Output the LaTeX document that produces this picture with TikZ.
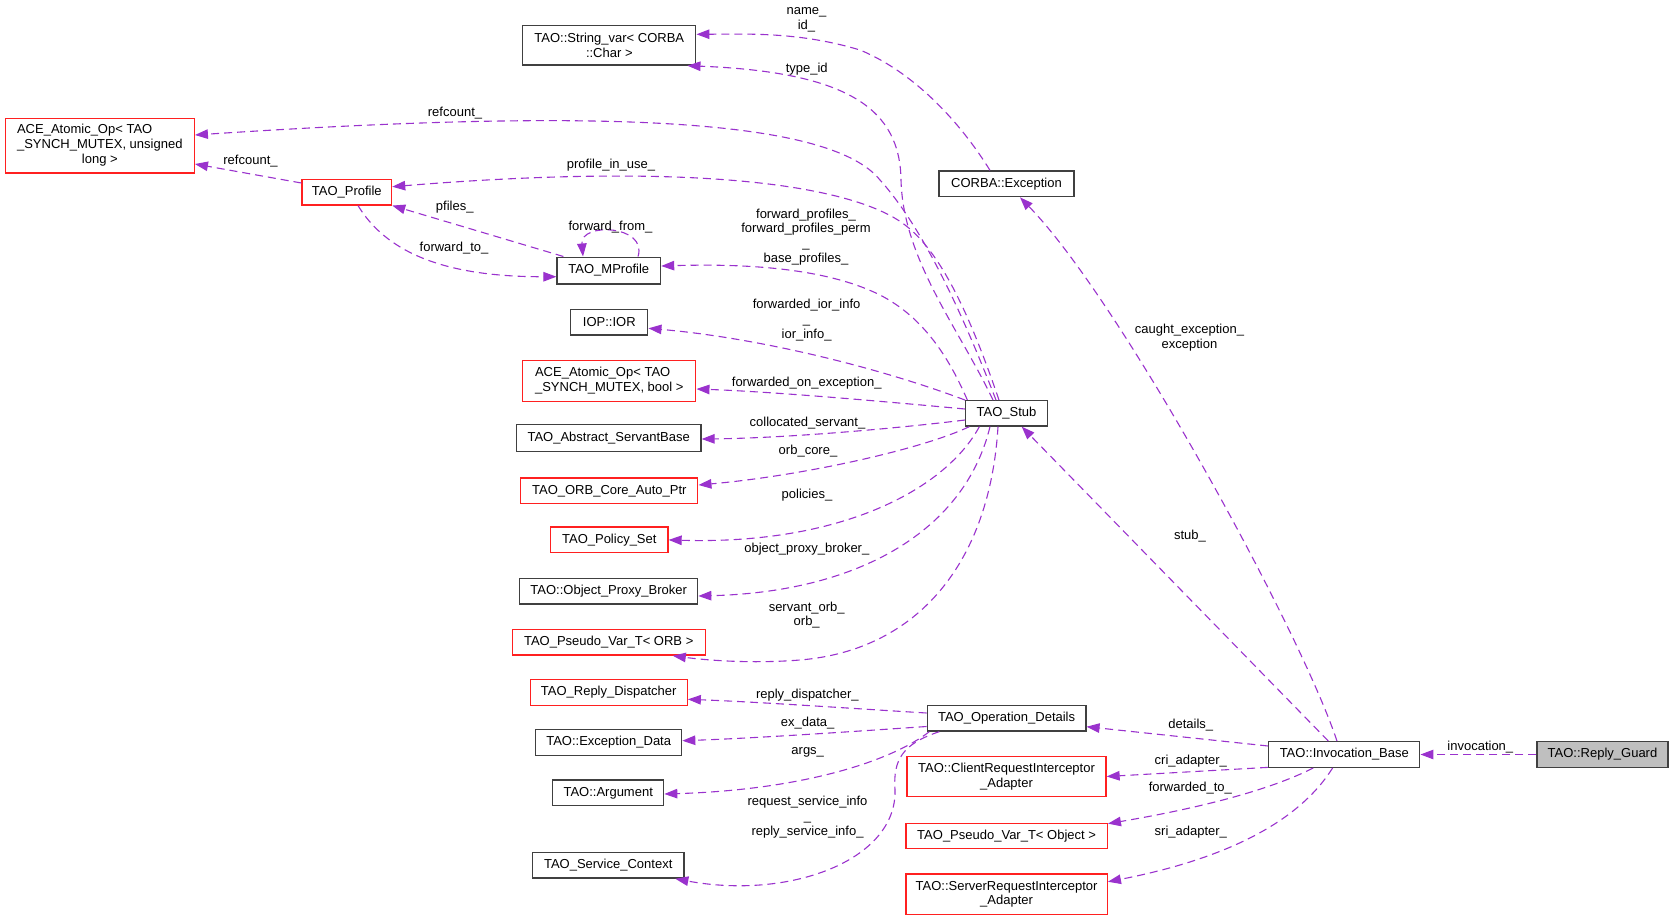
\documentclass[tikz,border=0pt]{standalone}
\usepackage{fontspec}
\setmainfont{Liberation Sans}
\usetikzlibrary{arrows.meta}
\definecolor{edgec}{HTML}{9A32CD}
\definecolor{boxk}{HTML}{404040}
\definecolor{boxr}{HTML}{FF2020}
\definecolor{fillg}{HTML}{BFBFBF}
\begin{document}
\begin{tikzpicture}[x=1pt,y=-1pt,
  every node/.style={font=\fontsize{13}{14.8}\selectfont},
  cls/.style={draw=boxk, line width=1.3pt, inner sep=0pt, align=center, fill=white},
  rcls/.style={cls, draw=boxr},
  lab/.style={inner sep=0pt, align=center},
  rel/.style={draw=edgec, line width=1.1pt, dash pattern=on 8pt off 5pt, -{Triangle[length=13pt,width=9.5pt]}}]
\useasboundingbox (0,0) rectangle (1673,921);

% ---- nodes ----
\node[cls, minimum width=173pt, minimum height=39.5pt] (strvar) at (609.3,45.3) {TAO::String\_var< CORBA\\::Char >};
\node[rcls, minimum width=189pt, minimum height=54.5pt] (aceul) at (99.8,145.7) {\begin{tabular}{@{}l@{}}ACE\_Atomic\_Op< TAO\\\_SYNCH\_MUTEX, unsigned\\\multicolumn{1}{@{}c@{}}{long >}\end{tabular}};
\node[rcls, minimum width=89.6pt, minimum height=25.6pt] (profile) at (346.8,192.1) {TAO\_Profile};
\node[cls, minimum width=103.5pt, minimum height=26.7pt] (mprofile) at (608.8,270.5) {TAO\_MProfile};
\node[cls, minimum width=77pt, minimum height=25.6pt] (ior) at (609.3,322.2) {IOP::IOR};
\node[rcls, minimum width=173pt, minimum height=40.5pt] (acebool) at (609.3,380.9) {\begin{tabular}{@{}l@{}}ACE\_Atomic\_Op< TAO\\\_SYNCH\_MUTEX, bool >\end{tabular}};
\node[cls, minimum width=184.6pt, minimum height=26.6pt] (absserv) at (608.7,438) {TAO\_Abstract\_ServantBase};
\node[rcls, minimum width=177pt, minimum height=25.6pt] (orbcore) at (609.3,490.8) {TAO\_ORB\_Core\_Auto\_Ptr};
\node[rcls, minimum width=117.4pt, minimum height=25.6pt] (policy) at (609.3,539.9) {TAO\_Policy\_Set};
\node[cls, minimum width=178pt, minimum height=25.6pt] (opb) at (608.7,591.1) {TAO::Object\_Proxy\_Broker};
\node[rcls, minimum width=193pt, minimum height=25.6pt] (pvorb) at (608.7,642.3) {TAO\_Pseudo\_Var\_T< ORB >};
\node[rcls, minimum width=157pt, minimum height=25.6pt] (replydisp) at (608.7,692.5) {TAO\_Reply\_Dispatcher};
\node[cls, minimum width=146pt, minimum height=25.6pt] (excdata) at (608.7,742.6) {TAO::Exception\_Data};
\node[cls, minimum width=111pt, minimum height=25.6pt] (argument) at (608.2,792.8) {TAO::Argument};
\node[cls, minimum width=151.6pt, minimum height=25.6pt] (svcctx) at (608.2,865.3) {TAO\_Service\_Context};
\node[cls, minimum width=135pt, minimum height=25.7pt] (corbaexc) at (1006.5,183.85) {CORBA::Exception};
\node[cls, minimum width=81.6pt, minimum height=25.3pt] (stub) at (1006.5,413.35) {TAO\_Stub};
\node[cls, minimum width=158.6pt, minimum height=25.6pt] (opdet) at (1006.6,718.2) {TAO\_Operation\_Details};
\node[rcls, minimum width=199pt, minimum height=40pt] (cri) at (1006.5,776.5) {TAO::ClientRequestInterceptor\\\_Adapter};
\node[rcls, minimum width=201.4pt, minimum height=25.4pt] (pvobj) at (1006.6,836) {TAO\_Pseudo\_Var\_T< Object >};
\node[rcls, minimum width=201.4pt, minimum height=40.5pt] (sri) at (1006.6,894.3) {TAO::ServerRequestInterceptor\\\_Adapter};
\node[cls, minimum width=151pt, minimum height=25.6pt] (invbase) at (1344.3,754.5) {TAO::Invocation\_Base};
\node[cls, fill=fillg, draw=boxk, minimum width=131pt, minimum height=25.6pt] (replyguard) at (1602.5,754.5) {TAO::Reply\_Guard};

% ---- connectors ----
\draw[rel] ([xshift=-16.5pt]corbaexc.north) .. controls (965,130) and (920,75) .. (860,50) .. controls (800,32) and (750,34) .. ([yshift=11pt]strvar.east);
\draw[rel] ([xshift=-13.5pt]stub.north) .. controls (960,330) and (903,260) .. (901,180) .. controls (900,110) and (850,72) .. ([xshift=-9pt]strvar.south east);
\draw[rel] ([xshift=-10.5pt]stub.north) .. controls (965,320) and (925,230) .. (880,180) .. controls (830,118) and (600,108) .. ([yshift=10.7pt]aceul.east);
\draw[rel] ([xshift=-7.5pt]stub.north) .. controls (975,330) and (945,255) .. (905,225) .. controls (860,190) and (720,160) .. ([yshift=5.4pt]profile.east);
\draw[rel] ([yshift=9.1pt]profile.west) -- ([yshift=-18.3pt]aceul.east);
\draw[rel] ([xshift=7pt]mprofile.north west) -- (profile.south east);
\draw[rel] ([xshift=11.2pt]profile.south) .. controls (385,250) and (440,277) .. ([yshift=-6.2pt]mprofile.west);
\draw[rel] ([xshift=29.2pt]mprofile.north) .. controls (648,225) and (580,222) .. ([xshift=-25.8pt]mprofile.north);
\draw[rel] ([xshift=2.3pt]stub.north west) .. controls (950,360) and (925,318) .. (880,295) .. controls (820,265) and (730,264) .. ([yshift=4.5pt]mprofile.east);
\draw[rel] (stub.north west) .. controls (880,368) and (760,338) .. ([yshift=-6.1pt]ior.east);
\draw[rel] ([yshift=4.35pt]stub.west) .. controls (900,403) and (780,392) .. ([yshift=-8.1pt]acebool.east);
\draw[rel] ([yshift=-6.65pt]stub.west) .. controls (900,428) and (790,438) .. ([yshift=-1pt]absserv.east);
\draw[rel] ([xshift=4.3pt]stub.south west) .. controls (920,450) and (800,476) .. ([yshift=5.8pt]orbcore.east);
\draw[rel] ([xshift=14.3pt]stub.south west) .. controls (945,490) and (840,545) .. (policy.east);
\draw[rel] ([xshift=-16.5pt]stub.south) .. controls (965,530) and (860,592) .. ([yshift=-4.9pt]opb.east);
\draw[rel] ([xshift=-8.5pt]stub.south) .. controls (990,560) and (920,650) .. (800,660) .. controls (750,664) and (705,660) .. ([xshift=64.1pt]pvorb.south);
\draw[rel] ([yshift=5.2pt]opdet.west) .. controls (860,709) and (760,702) .. ([yshift=-6.8pt]replydisp.east);
\draw[rel] ([yshift=-8.3pt]opdet.west) .. controls (860,731) and (760,738) .. ([yshift=1.9pt]excdata.east);
\draw[rel] ([xshift=2.7pt]opdet.south west) .. controls (890,762) and (800,790) .. ([yshift=-1.2pt]argument.east);
\draw[rel] ([xshift=12.7pt]opdet.south west) .. controls (902,744) and (893,760) .. (895,790) .. controls (897,860) and (790,900) .. ([xshift=-9.3pt]svcctx.south east);
\draw[rel] ([yshift=8.5pt]invbase.west) -- ([yshift=-8.5pt]opdet.east);
\draw[rel] ([yshift=0.6pt]invbase.south west) -- (cri.east);
\draw[rel] ([xshift=-31pt]invbase.south) .. controls (1270,790) and (1200,808) .. ([yshift=-1pt]pvobj.north east);
\draw[rel] ([xshift=-11.7pt]invbase.south) .. controls (1300,820) and (1230,858) .. ([yshift=12.55pt]sri.east);
\draw[rel] (replyguard.west) -- (invbase.east);
\draw[rel] ([xshift=-16pt]invbase.north) -- ([xshift=15.2pt]stub.south);
\draw[rel] ([xshift=-7.3pt]invbase.north) .. controls (1300,630) and (1120,300) .. ([xshift=13.5pt]corbaexc.south);

% ---- connector labels ----
\node[lab] (lnameid) at (806.5,19.5) {name\_\\id\_};
\node[lab] (ltypeid) at (806.7,69) {type\_id};
\node[lab] (lref1) at (455,112.7) {refcount\_};
\node[lab] (lref2) at (250.5,161) {refcount\_};
\node[lab] (lpiu) at (611,165) {profile\_in\_use\_};
\node[lab] (lpfiles) at (454.7,207.3) {pfiles\_};
\node[lab] (lfwdto) at (454,248.3) {forward\_to\_};
\node[lab] (lfwdfrom) at (610.5,227) {forward\_from\_};
\node[lab] (lfwdprof) at (806,237) {forward\_profiles\_\\forward\_profiles\_perm\\\_\\base\_profiles\_};
\node[lab] (lior) at (806.6,320) {forwarded\_ior\_info\\\_\\ior\_info\_};
\node[lab] (lfoe) at (806.7,383.3) {forwarded\_on\_exception\_};
\node[lab] (lcoll) at (807.5,422.7) {collocated\_servant\_};
\node[lab] (lorbc) at (808,451) {orb\_core\_};
\node[lab] (lpol) at (807,495) {policies\_};
\node[lab] (lopb) at (806.8,548.7) {object\_proxy\_broker\_};
\node[lab] (lsorb) at (806.7,615) {servant\_orb\_\\orb\_};
\node[lab] (lrd) at (807.3,695) {reply\_dispatcher\_};
\node[lab] (lexd) at (807.7,722.7) {ex\_data\_};
\node[lab] (largs) at (807.7,752.3) {args\_};
\node[lab] (lrsi) at (807.5,817) {request\_service\_info\\\_\\reply\_service\_info\_};
\node[lab] (ldet) at (1190.8,725) {details\_};
\node[lab] (lcri) at (1190.8,761.3) {cri\_adapter\_};
\node[lab] (lfwdto2) at (1190.3,787.7) {forwarded\_to\_};
\node[lab] (lsri) at (1190.8,831.7) {sri\_adapter\_};
\node[lab] (linv) at (1480.3,746.7) {invocation\_};
\node[lab] (lstub) at (1190,535.7) {stub\_};
\node[lab] (lcaught) at (1189.5,337.6) {caught\_exception\_\\exception};
\end{tikzpicture}
\end{document}
